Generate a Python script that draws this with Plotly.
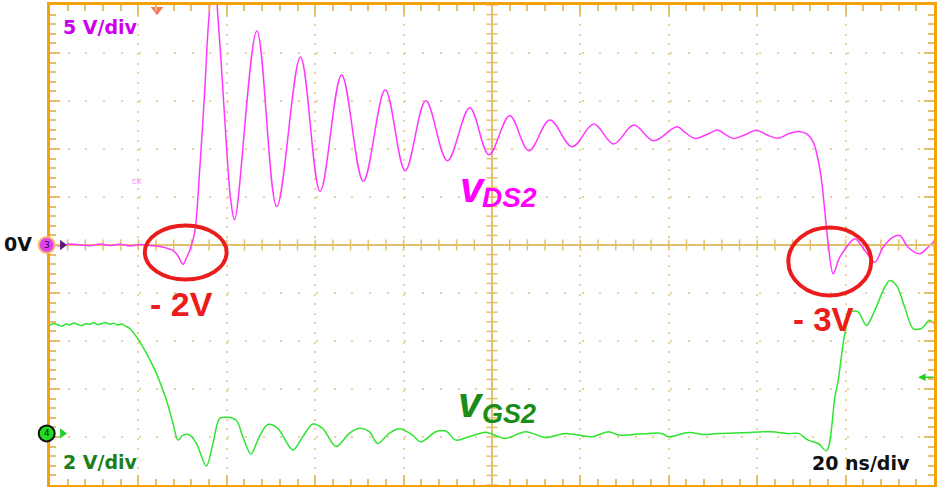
import numpy as np
import plotly.graph_objects as go

# ---- waveform data (time in ns relative to screen centre, voltages in V) ----
# CH3: drain-source voltage, 5 V/div
vds_t = [-100.0, -97.7, -95.5, -93.2, -90.9, -88.7, -86.4, -84.2, -81.9, -79.7, -77.4, -75.2, -73.4,
         -72.2, -71.1, -69.9, -69.1, -68.4, -67.3, -66.1, -65.0, -64.1, -63.2, -62.5, -62.1, -61.2, -60.0, -59.1,
         -58.24, -53.20, -48.69, -43.34, -38.89, -34.02, -29.12, -24.15, -19.64, -14.97,
         -10.09, -5.03, -0.68, 4.00, 8.35, 13.09, 18.13, 23.02, 27.54, 32.05, 36.57,
         41.83, 43.79, 45.98, 48.98, 51.08, 52.82, 54.63, 57.27,
         59.82, 62.08, 64.78, 67.04, 69.30, 71.10, 72.69, 73.81, 74.56, 75.17,
         76.07, 77.20, 78.55, 80.20, 82.10, 84.36, 86.61, 88.49, 90.74, 92.26,
         94.13, 96.77, 98.26, 100.0]
vds_v = [0.05, -0.1, 0.1, 0.0, -0.08, 0.1, -0.05, 0.08, -0.1, 0.05, -0.05, -0.15, -0.35,
         -0.57, -1.09, -2.0, -1.3, -0.57, 1.20, 8.06, 16.06, 23.34, 26.97, 26.66, 24.38, 18.45, 9.82, 4.63,
         2.62, 22.30, 4.00, 19.59, 5.59, 17.72, 6.63, 16.16, 7.74, 15.02,
         8.78, 14.29, 9.41, 13.46, 9.82, 13.01, 10.24, 12.60, 10.52, 12.49, 10.86,
         12.32, 11.69, 11.10, 11.59, 11.97, 11.49, 11.10, 11.49,
         11.95, 11.49, 11.12, 11.59, 11.83, 11.59, 10.69, 8.78, 6.70, 4.11,
         0.12, -3.00, -1.40, -0.23, 0.64, -0.57, -1.79, -0.23, 0.81, 0.99,
         -0.23, -0.91, -0.40, 0.36]

# CH4: gate-source voltage, 2 V/div
vgs_t = [-100.0, -99.1, -98.2, -97.3, -96.4, -95.5, -94.6, -93.7, -92.8, -91.9,
         -91.0, -90.1, -89.2, -88.3, -87.4, -86.5, -85.6, -84.7, -83.8, -82.9,
         -81.94, -80.43, -78.17, -75.91, -73.66, -72.17, -71.04, -69.91, -68.40, -66.88,
         -64.63, -63.14, -61.62, -60.11, -57.86, -56.37, -54.54, -52.66, -50.72, -48.47,
         -45.08, -42.82, -40.56, -38.31, -35.28, -32.28, -30.02, -27.76, -25.89, -23.25,
         -20.99, -17.99, -16.09, -12.71, -10.45, -8.19, -5.19, -1.42, 0.84, 3.09,
         7.61, 12.12, 16.64, 22.64, 26.41, 28.67, 33.18, 38.37, 39.95, 44.47,
         47.85, 51.24, 56.88, 63.27, 67.04, 69.30, 71.55, 73.81, 75.69, 77.58,
         78.33, 79.84, 81.33, 82.84, 84.72, 86.61, 88.87, 90.00, 91.49, 93.38,
         95.26, 97.13, 99.03, 100.0]
vgs_v = [4.50, 4.58, 4.52, 4.47, 4.56, 4.52, 4.60, 4.54, 4.49, 4.57,
         4.55, 4.61, 4.53, 4.58, 4.62, 4.55, 4.59, 4.52, 4.56, 4.47,
         4.37, 4.02, 3.33, 2.49, 1.39, 0.42, -0.28, -0.07, -0.07, -0.42,
         -1.36, -0.42, 0.62, 0.67, 0.55, -0.14, -0.86, -0.14, 0.37, 0.21,
         -0.69, -0.14, 0.39, 0.21, -0.55, 0.00, 0.21, 0.07, -0.42, 0.00,
         0.19, -0.07, -0.35, 0.07, 0.10, -0.28, -0.14, 0.05, -0.09, -0.21,
         0.07, -0.17, 0.00, -0.14, 0.07, -0.07, -0.03, 0.00, -0.14, 0.04,
         -0.05, 0.00, 0.03, 0.07, -0.01, 0.00, -0.28, -0.42, -0.72, 1.52,
         2.22, 4.16, 5.06, 5.06, 4.50, 5.13, 6.10, 6.37, 6.17, 5.26,
         4.37, 4.37, 4.71, 4.57]

assert len(vds_t) == len(vds_v)
assert len(vgs_t) == len(vgs_v)

# screen settings
T_DIV = 20.0             # ns/div
CH3_DIV = 5.0            # V/div
CH4_DIV = 2.0            # V/div
CH4_OFFSET_DIV = -3.925  # CH4 ground position, divisions from centre
N_DIV = 10

CH4_RANGE = [(-N_DIV / 2 - CH4_OFFSET_DIV) * CH4_DIV, (N_DIV / 2 - CH4_OFFSET_DIV) * CH4_DIV]

# colours
ORANGE = "#f4a20c"
TICK = "#e2c16c"
DOT = "#e8d39a"
MAGENTA = "#ff38ff"
GREEN = "#2fe42f"
RED = "#ea1c1c"

fig = go.Figure()

# centre-line tick marks (5 per division)
cx = np.arange(-N_DIV / 2 * T_DIV, N_DIV / 2 * T_DIV + 0.01, T_DIV / 5)
cy = np.arange(-N_DIV / 2 * CH3_DIV, N_DIV / 2 * CH3_DIV + 0.01, CH3_DIV / 5)
fig.add_trace(go.Scatter(x=cx, y=np.zeros_like(cx), mode="markers", hoverinfo="skip",
                         marker=dict(symbol="line-ns", size=8, line=dict(color=TICK, width=1.5))))
fig.add_trace(go.Scatter(x=np.zeros_like(cy), y=cy, mode="markers", hoverinfo="skip",
                         marker=dict(symbol="line-ew", size=8, line=dict(color=TICK, width=1.5))))

# waveforms
fig.add_trace(go.Scatter(x=vds_t, y=vds_v, mode="lines", name="vDS2",
                         line=dict(color=MAGENTA, width=1.5, shape="spline", smoothing=1.0)))
fig.add_trace(go.Scatter(x=vgs_t, y=vgs_v, mode="lines", name="vGS2", yaxis="y2",
                         line=dict(color=GREEN, width=1.5, shape="spline", smoothing=0.9)))

# channel ground arrows
fig.add_trace(go.Scatter(x=[-97.2], y=[0], mode="markers", cliponaxis=False,
                         marker=dict(symbol="triangle-right", size=9, color="#5c1a78")))
fig.add_trace(go.Scatter(x=[-97.2], y=[0], mode="markers", cliponaxis=False, yaxis="y2",
                         marker=dict(symbol="triangle-right", size=9, color="#22cc22")))

# trigger position marker
fig.add_trace(go.Scatter(x=[-75.8], y=[24.5], mode="markers", cliponaxis=False,
                         marker=dict(symbol="triangle-down", size=11, color="#f47a62")))

axis_common = dict(showticklabels=False, ticks="inside", ticklen=10, tickwidth=1.5, tickcolor=TICK,
                   showline=True, linecolor=ORANGE, linewidth=3, mirror="ticks",
                   showgrid=True, gridcolor=DOT, gridwidth=2,
                   zeroline=True, zerolinecolor=TICK, zerolinewidth=2, fixedrange=True)

fig.update_layout(
    width=939, height=487,
    margin=dict(l=50, r=3, t=4, b=2),
    paper_bgcolor="white", plot_bgcolor="white",
    showlegend=False,
    xaxis=dict(range=[-N_DIV / 2 * T_DIV, N_DIV / 2 * T_DIV], dtick=T_DIV, tick0=0,
               griddash="2px,7.62px",
               minor=dict(ticks="inside", ticklen=6, tickwidth=1.5, tickcolor=TICK,
                          dtick=T_DIV / 5, showgrid=False),
               **axis_common),
    yaxis=dict(range=[-N_DIV / 2 * CH3_DIV, N_DIV / 2 * CH3_DIV], dtick=CH3_DIV, tick0=0,
               griddash="2px,15.72px",
               minor=dict(ticks="inside", ticklen=6, tickwidth=1.5, tickcolor=TICK,
                          dtick=CH3_DIV / 5, showgrid=False),
               **axis_common),
    yaxis2=dict(overlaying="y", visible=False, fixedrange=True, range=CH4_RANGE),
)

# highlighted undershoots
fig.add_shape(type="circle", xref="x", yref="y", x0=-78.55, x1=-60.04, y0=-3.59, y1=2.03,
              line=dict(color=RED, width=4))
fig.add_shape(type="circle", xref="x", yref="y", x0=67.04, x1=85.78, y0=-5.25, y1=1.82,
              line=dict(color=RED, width=4))

# channel badges on the left edge (paper coordinates)
PLOT_W, PLOT_H = 886.0, 481.0
bx = -3.3 / PLOT_W
rx, ry = 8.0 / PLOT_W, 8.0 / PLOT_H
ch3_y = 0.5
ch4_y = (0 - CH4_RANGE[0]) / (CH4_RANGE[1] - CH4_RANGE[0])
for yc, fill, edge, num, ncol in [(ch3_y, "#e040ee", "#f3b870", "3", "#3a003a"),
                                  (ch4_y, "#22dd22", "#111111", "4", "#002200")]:
    fig.add_shape(type="circle", xref="paper", yref="paper", layer="above",
                  x0=bx - rx, x1=bx + rx, y0=yc - ry, y1=yc + ry,
                  fillcolor=fill, line=dict(color=edge, width=2))
    fig.add_annotation(text=num, x=bx, y=yc, xref="paper", yref="paper", showarrow=False,
                       xanchor="center", yanchor="middle",
                       font=dict(size=9, color=ncol, family="DejaVu Sans"))

BOLD = "DejaVu Sans"
ARIAL = "Liberation Sans"


def label(text, x, y, size, color, family, xanchor="left", xref="paper", yref="paper"):
    fig.add_annotation(text=text, x=x, y=y, xref=xref, yref=yref, xanchor=xanchor, yanchor="middle",
                       showarrow=False, font=dict(size=size, color=color, family=family))


label("<b>5 V/div</b>", 0.0125, 0.954, 19, "#cc00ee", BOLD)
label("<b>2 V/div</b>", 0.0125, 0.048, 19, "#1c7f1c", BOLD)
label("<b>20 ns/div</b>", 0.975, 0.046, 19, "#111111", BOLD, xanchor="right")
label("<b>0V</b>", -0.0545, 0.502, 19, "#111111", BOLD)
label("<b>- 2V</b>", 0.1106, 0.378, 34, RED, ARIAL)
label("<b>- 3V</b>", 0.8386, 0.345, 33, RED, ARIAL)
label("<b><i>v</i></b>", 0.4615, 0.6206, 42, "#ff00ff", ARIAL)
label("<b><i>DS2</i></b>", 0.4865, 0.5998, 28, "#ff00ff", ARIAL)
label("<b><i>v</i></b>", 0.4592, 0.1715, 42, "#1a8c1a", ARIAL)
label("<b><i>GS2</i></b>", 0.4865, 0.1476, 27, "#1a8c1a", ARIAL)
label("CK", -80.4, 6.6, 7, "#ff77ff", BOLD, xanchor="center", xref="x", yref="y")

# CH4 trigger-level arrow on the right edge
fig.add_annotation(x=0.982, y=2.34, xref="paper", yref="y2", text="", showarrow=True,
                   ax=17, ay=0, arrowhead=2, arrowsize=1, arrowwidth=1.5, arrowcolor="#22cc22")

fig.write_html("out.html")
